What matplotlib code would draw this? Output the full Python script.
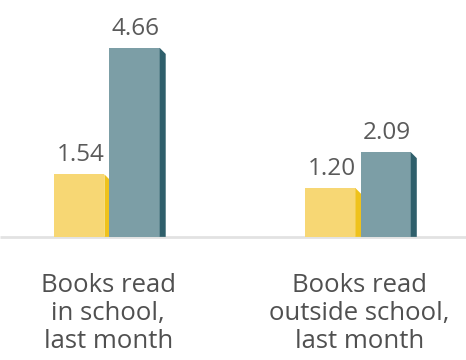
import matplotlib.pyplot as plt
from matplotlib.patches import Polygon
import matplotlib.transforms as mtransforms

plt.rcParams['font.family'] = ['Open Sans', 'DejaVu Sans']

categories = ['Books read\nin school,\nlast month', 'Books read\noutside school,\nlast month']
series_a = [1.54, 1.20]
series_b = [4.66, 2.09]

front_a, side_a = '#f7d774', '#efc21c'
front_b, side_b = '#7c9ea6', '#2f5f6b'

fig = plt.figure(figsize=(4.66, 3.6), dpi=100)
ax = fig.add_axes([0, 0.342, 1, 0.658])
ax.set_xlim(-0.436, 1.42)
ax.set_ylim(0, 5.84)
ax.axis('off')

width = 0.2
depth_x = 0.024
depth_y = 0.15
offsets = [-0.12, 0.1]


def bar3d(x, h, front, side):
    ax.bar(x, h, width=width, color=front, linewidth=0, zorder=2)
    right = x + width / 2
    pts = [(right, h), (right + depth_x, h - depth_y), (right + depth_x, 0), (right, 0)]
    ax.add_patch(Polygon(pts, closed=True, color=side, linewidth=0, zorder=2))
    ax.annotate(f'{h:.2f}', (x + 0.005, h), xytext=(0, 9.5), textcoords='offset points',
                ha='center', va='baseline', fontsize=17.5, color='#5a5a5a')


for i in range(len(categories)):
    bar3d(i + offsets[0], series_a[i], front_a, side_a)
    bar3d(i + offsets[1], series_b[i], front_b, side_b)

# baseline
ax.plot([0, 1], [0, 0], transform=ax.get_yaxis_transform(), color='#e2e2e2',
        linewidth=2, clip_on=False, zorder=1, solid_capstyle='butt')

trans = mtransforms.blended_transform_factory(ax.transData, fig.transFigure)
for i, label in enumerate(categories):
    ax.text(i - 0.005, 1 - 273 / 360, label, transform=trans, ha='center', va='top',
            fontsize=18.5, color='#505050', linespacing=1.16)

fig.savefig('out.png', dpi=100)
